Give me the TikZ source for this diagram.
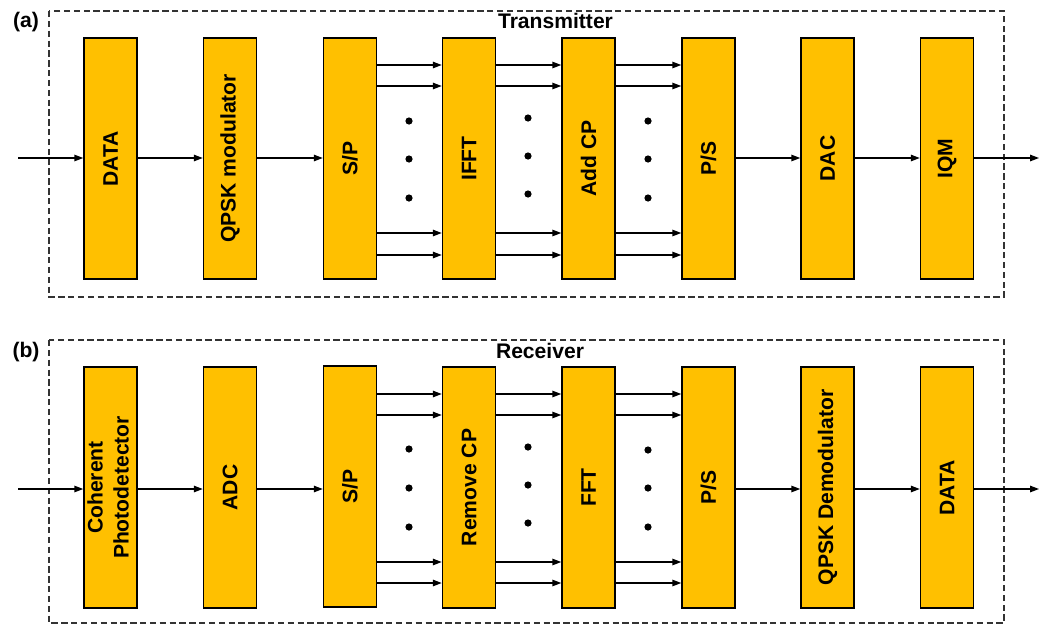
\documentclass[tikz,border=0pt]{standalone}
\usepackage{fontspec}
\setmainfont{Liberation Sans}
\usetikzlibrary{arrows.meta}
\definecolor{boxfill}{HTML}{FFC000}
\definecolor{framegray}{HTML}{333333}
\tikzset{
  blk/.style={draw=black, line width=1.05pt, fill=boxfill, minimum width=1.325cm, minimum height=6.025cm, inner sep=0pt, font=\fontsize{15}{18.5}\selectfont\bfseries},
  arr/.style={line width=0.85pt, -{Triangle[length=2.2mm,width=1.6mm]}},
  frame/.style={draw=framegray, line width=0.75pt, dash pattern=on 4.5pt off 2.5pt},
  ttl/.style={font=\fontsize{15}{18}\selectfont\bfseries, inner sep=0pt},
  dotm/.style={fill=black, circle, inner sep=0pt, minimum size=0.18cm}
}
\begin{document}
\begin{tikzpicture}[x=0.025cm, y=-0.025cm]
\useasboundingbox (0,0) rectangle (1048,626);
% frames
\draw[frame] (49,11) rectangle (1004,297);
\draw[frame] (49,340) rectangle (1004,623);
\node[ttl] (ttx) at (555.5,20.5) {Transmitter};
\node[ttl] (trx) at (540,351) {Receiver};
\node[ttl] (la) at (26,22) {(a)};
\node[ttl] (lb) at (26,352) {(b)};
% top row
\node[blk] (t1) at (110.5,158.5) {\rotatebox{90}{DATA}};
\node[blk] (t2) at (230,158.5) {\rotatebox{90}{QPSK modulator}};
\node[blk] (t3) at (350,158.5) {\rotatebox{90}{S/P}};
\node[blk] (t4) at (469,158.5) {\rotatebox{90}{IFFT}};
\node[blk] (t5) at (588.5,158.5) {\rotatebox{90}{Add CP}};
\node[blk] (t6) at (708.5,158.5) {\rotatebox{90}{P/S}};
\node[blk] (t7) at (827.5,158.5) {\rotatebox{90}{DAC}};
\node[blk] (t8) at (947,158.5) {\rotatebox{90}{IQM}};
\coordinate (tin) at (18,158);
\coordinate (tout) at (1039,158);
\draw[arr] (tin) -- (tin -| t1.west);
\draw[arr] (t1.east |- tin) -- (t2.west |- tin);
\draw[arr] (t2.east |- tin) -- (t3.west |- tin);
\draw[arr] (t6.east |- tin) -- (t7.west |- tin);
\draw[arr] (t7.east |- tin) -- (t8.west |- tin);
\draw[arr] (t8.east |- tout) -- (tout);
\foreach \a/\b in {t3/t4, t4/t5, t5/t6}{
  \foreach \yy in {65,86,233,255}{
    \draw[arr] (\a.east |- 0,\yy) -- (\b.west |- 0,\yy);
  }
}
\foreach \xx/\ya/\yb/\yc in {409/121/159/198, 528/118/156/194, 648/121/159/198}{
  \node[dotm] at (\xx,\ya) {};
  \node[dotm] at (\xx,\yb) {};
  \node[dotm] at (\xx,\yc) {};
}
% bottom row
\node[blk] (b1) at (110.5,487.5) {\rotatebox{90}{\begin{tabular}{@{}c@{}}Coherent\\ Photodetector\end{tabular}}};
\node[blk] (b2) at (230,487.5) {\rotatebox{90}{ADC}};
\node[blk] (b3) at (350,486.5) {\rotatebox{90}{S/P}};
\node[blk] (b4) at (469,487.5) {\rotatebox{90}{Remove CP}};
\node[blk] (b5) at (588.5,487.5) {\rotatebox{90}{FFT}};
\node[blk] (b6) at (708.5,487.5) {\rotatebox{90}{P/S}};
\node[blk] (b7) at (827.5,487.5) {\rotatebox{90}{QPSK Demodulator}};
\node[blk] (b8) at (947,487.5) {\rotatebox{90}{DATA}};
\coordinate (bin) at (18,489);
\coordinate (bout) at (1039,489);
\draw[arr] (bin) -- (bin -| b1.west);
\draw[arr] (b1.east |- bin) -- (b2.west |- bin);
\draw[arr] (b2.east |- bin) -- (b3.west |- bin);
\draw[arr] (b6.east |- bin) -- (b7.west |- bin);
\draw[arr] (b7.east |- bin) -- (b8.west |- bin);
\draw[arr] (b8.east |- bout) -- (bout);
\foreach \a/\b in {b3/b4, b4/b5, b5/b6}{
  \foreach \yy in {394,415,562,583}{
    \draw[arr] (\a.east |- 0,\yy) -- (\b.west |- 0,\yy);
  }
}
\foreach \xx/\ya/\yb/\yc in {409/449/488/527, 528/447/485/523, 648/450/488/527}{
  \node[dotm] at (\xx,\ya) {};
  \node[dotm] at (\xx,\yb) {};
  \node[dotm] at (\xx,\yc) {};
}
\end{tikzpicture}
\end{document}
